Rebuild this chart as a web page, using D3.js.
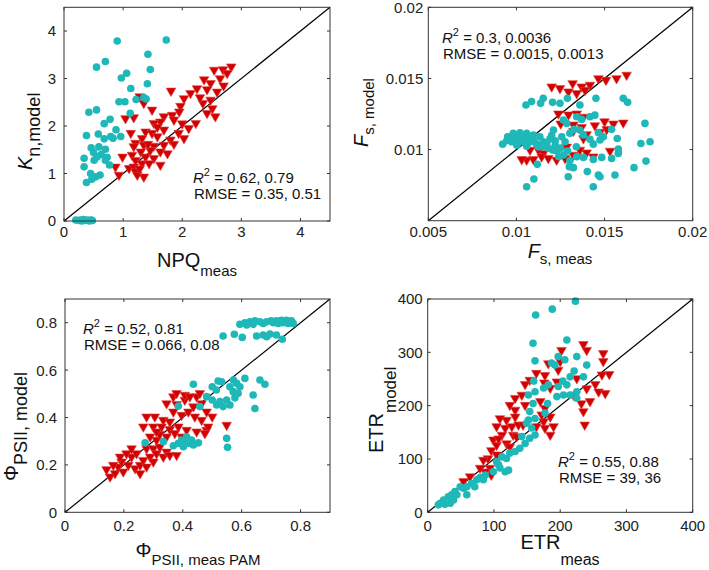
<!DOCTYPE html>
<html>
<head>
<meta charset="utf-8">
<script src="https://cdn.jsdelivr.net/npm/d3@7.9.0/dist/d3.min.js"></script>
<style>
  body { margin: 0; background: #fff; }
  svg { display: block; font-family: "Liberation Sans", Arial, Helvetica, sans-serif; }
</style>
</head>
<body>
<svg id="fig" width="709" height="570"></svg>
<script>
const npqCircles = [
  [0.90,3.79],[1.73,3.81],[1.42,3.51],[0.70,3.36],[0.55,3.24],[1.46,3.19],[1.06,3.11],[0.97,3.01],
  [1.41,2.89],[1.13,2.79],[0.93,2.51],[1.03,2.51],[1.22,2.56],[1.35,2.60],[1.39,2.57],[1.12,2.27],
  [0.42,2.29],[0.55,2.34],[0.78,2.14],[0.68,2.05],[0.38,1.80],[0.58,1.83],[0.88,1.92],[0.79,1.78],
  [0.96,1.78],[0.68,1.73],[0.83,1.74],[0.46,1.54],[0.59,1.56],[0.70,1.51],[0.50,1.44],[0.56,1.35],
  [0.34,1.32],[0.73,1.34],[0.51,1.28],[0.70,1.28],[0.34,1.14],[0.77,1.18],[0.45,1.00],[0.61,0.97],
  [0.54,0.93],[0.38,0.81],[0.47,0.88],[0.63,1.40],
  [0.20,0.02],[0.25,0.01],[0.28,0.02],[0.30,0.00],[0.33,0.03],[0.36,0.01],[0.40,0.02],[0.43,0.00],
  [0.46,0.02],[0.48,0.01]
];
const npqTriangles = [
  [2.83,3.25],[2.69,3.19],[2.54,3.18],[2.76,3.11],[2.64,3.00],[2.37,2.98],[2.48,2.90],[2.25,2.79],
  [2.14,2.69],[1.81,2.74],[2.42,2.77],[2.59,2.72],[2.03,2.58],[1.28,2.62],[1.35,2.48],[1.49,2.34],
  [1.97,2.42],[2.35,2.48],[2.48,2.55],[2.51,2.37],[2.42,2.27],[2.56,2.20],[1.04,2.16],[1.18,2.18],
  [1.69,2.20],[1.83,2.23],[1.63,2.09],[1.86,2.13],[1.52,2.06],[2.23,2.06],[2.11,1.95],[1.13,1.85],
  [1.38,1.88],[1.49,1.85],[1.69,1.92],[1.94,1.85],[2.03,1.74],[1.80,1.71],[1.32,1.74],[1.58,1.78],
  [1.21,1.64],[1.35,1.60],[1.52,1.58],[1.18,1.57],[1.69,1.60],[1.86,1.62],[1.46,1.49],[1.63,1.46],
  [1.30,1.46],[1.75,1.42],[0.99,1.35],[1.15,1.39],[1.38,1.35],[1.52,1.32],[1.21,1.28],[1.32,1.21],
  [1.44,1.21],[1.63,1.18],[0.87,1.14],[1.10,1.11],[1.18,1.14],[0.93,0.97],[1.21,1.04],[1.35,0.93],
  [1.24,0.97],[2.70,2.85],[2.30,2.60],[1.95,2.30],[1.58,1.98],[1.42,1.62],[2.00,2.05],[1.28,1.10]
];
const fsCircles = [
  [0.01058,0.00739],[0.01099,0.00793],[0.01118,0.00896],[0.01294,0.00809],[0.01300,0.00880],[0.01323,0.00873],
  [0.01402,0.00845],[0.01436,0.00739],[0.01465,0.00821],[0.01474,0.00809],[0.01559,0.00821],[0.01667,0.00873],
  [0.01735,0.00919],[0.01706,0.01043],[0.01758,0.01055],[0.01729,0.01184],[0.01572,0.01078],[0.01578,0.01003],
  [0.01578,0.00973],[0.01540,0.00938],[0.01484,0.00945],[0.01436,0.00931],[0.01380,0.00945],[0.01342,0.00950],
  [0.01303,0.00922],[0.01266,0.00962],[0.01228,0.00990],[0.01205,0.00997],[0.01181,0.01009],[0.01152,0.01055],
  [0.01115,0.01038],[0.01077,0.01055],[0.01039,0.01060],[0.01002,0.01067],[0.00973,0.01055],[0.00945,0.01062],
  [0.00922,0.01038],[0.00982,0.01114],[0.01020,0.01118],[0.01058,0.01114],[0.01096,0.01102],[0.01133,0.01090],
  [0.01002,0.01031],[0.01058,0.01024],[0.01125,0.01019],[0.01172,0.01043],[0.01220,0.01062],[0.01257,0.01090],
  [0.01276,0.01055],[0.01303,0.01114],[0.01327,0.01142],[0.01285,0.01184],[0.01360,0.01137],[0.01380,0.01102],
  [0.01417,0.01072],[0.01436,0.01038],[0.01465,0.01118],[0.01474,0.01067],[0.01493,0.01090],[0.01540,0.01142],
  [0.01370,0.01212],[0.01417,0.01231],[0.01445,0.01242],[0.01360,0.01313],[0.01289,0.01360],[0.01247,0.01325],
  [0.01205,0.01332],[0.01152,0.01360],[0.01137,0.01325],[0.01086,0.01337],[0.01054,0.01313],[0.01451,0.01360],
  [0.01606,0.01360],[0.01631,0.01332],[0.01342,0.01231],[0.01266,0.01207],[0.01210,0.01137],
  [0.00950,0.01090],[0.00990,0.01085],[0.01030,0.01095],[0.01070,0.01080],[0.01100,0.01060],[0.01010,0.01045],
  [0.01050,0.01050],[0.01150,0.01020],[0.01220,0.01030],[0.01250,0.01010],[0.01190,0.01075],[0.01240,0.00950],
  [0.01290,0.00990],[0.01340,0.01020],[0.01200,0.01100]
];
const fsTriangles = [
  [0.01625,0.01524],[0.01568,0.01500],[0.01508,0.01488],[0.01465,0.01500],[0.01417,0.01454],[0.01370,0.01442],
  [0.01319,0.01465],[0.01247,0.01430],[0.01200,0.01442],[0.01295,0.01407],[0.01342,0.01395],[0.01389,0.01418],
  [0.01238,0.01252],[0.01295,0.01245],[0.01342,0.01252],[0.01380,0.01229],[0.01251,0.01181],[0.01323,0.01174],
  [0.01370,0.01157],[0.01445,0.01169],[0.01500,0.01197],[0.01550,0.01181],[0.01606,0.01188],[0.01512,0.01142],
  [0.01474,0.01123],[0.01398,0.01106],[0.01323,0.01130],[0.01380,0.01078],[0.01285,0.01019],[0.01360,0.00997],
  [0.01398,0.00978],[0.01531,0.00990],[0.01436,0.00950],[0.01228,0.00927],[0.01152,0.00973],[0.01125,0.00997],
  [0.01096,0.00931],[0.01058,0.00927],[0.01030,0.00931],[0.01077,0.00997],[0.01143,0.00950],[0.01181,0.00938],
  [0.01276,0.00938],[0.01323,0.00962]
];
const phiCircles = [
  [0.594,0.793],[0.611,0.800],[0.628,0.804],[0.645,0.808],[0.662,0.804],[0.685,0.804],[0.700,0.808],[0.718,0.808],
  [0.735,0.810],[0.752,0.810],[0.769,0.808],[0.775,0.797],[0.758,0.797],[0.740,0.800],[0.673,0.797],[0.639,0.793],
  [0.617,0.790],[0.707,0.800],[0.724,0.797],
  [0.537,0.744],[0.575,0.751],[0.602,0.738],[0.651,0.744],[0.673,0.748],[0.696,0.752],[0.718,0.748],[0.685,0.741],
  [0.738,0.730],
  [0.436,0.540],[0.520,0.554],[0.532,0.551],[0.500,0.530],[0.514,0.516],[0.560,0.530],[0.572,0.558],[0.583,0.544],
  [0.594,0.530],[0.611,0.565],[0.571,0.509],[0.588,0.502],[0.662,0.558],[0.679,0.540],[0.639,0.495],[0.645,0.438],
  [0.481,0.488],[0.500,0.474],[0.526,0.467],[0.549,0.474],[0.560,0.453],[0.515,0.453],[0.537,0.446],[0.458,0.446],
  [0.385,0.448],[0.577,0.483],[0.549,0.312],[0.552,0.274],
  [0.368,0.281],[0.385,0.291],[0.396,0.305],[0.407,0.298],[0.419,0.291],[0.430,0.305],[0.402,0.277],[0.436,0.284],
  [0.453,0.293],[0.334,0.298],[0.272,0.293],[0.413,0.319]
];
const phiTriangles = [
  [0.141,0.181],[0.153,0.150],[0.170,0.164],[0.181,0.192],[0.198,0.171],[0.192,0.213],[0.215,0.199],[0.226,0.234],
  [0.238,0.185],[0.255,0.199],[0.243,0.248],[0.266,0.220],[0.289,0.234],[0.277,0.269],[0.300,0.269],[0.311,0.248],
  [0.334,0.234],[0.345,0.255],[0.322,0.276],[0.356,0.241],[0.379,0.241],[0.311,0.305],[0.289,0.319],[0.322,0.330],
  [0.345,0.319],[0.266,0.361],[0.300,0.361],[0.311,0.340],[0.356,0.350],[0.373,0.333],[0.396,0.319],[0.277,0.403],
  [0.305,0.403],[0.334,0.389],[0.356,0.382],[0.328,0.361],[0.385,0.361],[0.413,0.347],[0.447,0.340],[0.481,0.347],
  [0.368,0.424],[0.396,0.410],[0.419,0.424],[0.441,0.403],[0.464,0.389],[0.500,0.403],[0.486,0.361],[0.549,0.368],
  [0.475,0.333],[0.345,0.459],[0.379,0.456],[0.407,0.474],[0.436,0.446],[0.368,0.488],[0.407,0.495],[0.447,0.488],
  [0.464,0.459],[0.481,0.424],[0.379,0.502],[0.424,0.488],[0.458,0.502],[0.187,0.234],[0.209,0.248],[0.226,0.269],
  [0.164,0.199],[0.255,0.164],[0.277,0.192],[0.300,0.213]
];
const etrCircles = [
  [223,396],[188,381],[163,370],[210,323],[159,317],[162,284],[240,276],[197,292],[207,286],[187,280],[192,276],
  [225,292],[221,265],[235,254],[215,254],[204,246],[210,239],[197,236],[182,239],[175,233],[160,246],[162,226],
  [152,220],[215,220],[205,220],[195,217],[225,214],[225,226],[181,204],[177,186],[159,204],[154,189],[152,173],
  [162,176],[157,158],[162,145],[154,139],[147,129],[142,142],[149,167],[139,120],[132,114],[124,111],[119,101],
  [112,104],[104,95],[109,83],[117,76],[122,79],[107,89],[99,76],[87,70],[79,65],[74,61],[66,54],[59,48],[54,45],
  [49,48],[41,39],[36,33],[31,29],[24,23],[19,17],[16,14],[26,15],[39,23],[59,33],[44,33],[34,17],[71,48],[84,61]
];
const etrTriangles = [
  [235,315],[240,304],[265,298],[265,283],[274,259],[263,258],[253,240],[258,226],[268,223],[240,232],[232,204],
  [245,208],[235,189],[237,164],[220,220],[225,251],[202,304],[200,283],[182,279],[197,267],[195,245],[177,257],
  [185,233],[176,243],[164,261],[154,248],[147,240],[170,208],[177,195],[185,179],[175,170],[164,161],[177,158],
  [190,161],[185,145],[172,183],[147,201],[132,192],[124,201],[132,179],[119,173],[109,176],[104,161],[117,158],
  [127,161],[137,164],[144,164],[112,145],[99,136],[96,116],[104,126],[119,129],[129,145],[124,123],[91,101],
  [104,108],[84,98],[94,83],[96,70],[87,76],[79,83],[64,67],[54,58],[134,142],[107,138],[142,220],[132,214]
];

const npqTicks = [0, 1, 2, 3, 4];
const fsXTicks = [0.005, 0.01, 0.015, 0.02];
const fsYTicks = [0.01, 0.015, 0.02];
const phiTicks = [0, 0.2, 0.4, 0.6, 0.8];
const etrTicks = [0, 100, 200, 300, 400];

const cyan = "#1fb8b8";
const red = "#d20000";

const svg = d3.select("#fig");

const panels = [
  {
    circles: npqCircles, tris: npqTriangles, domain: [0, 4.5],
    xTicks: npqTicks, yTicks: npqTicks, fmt: d3.format("d"),
    left: 64, right: 330, top: 7.3, bottom: 221, ylabGap: 8, xlabDy: 16,
    stats: ["0.62, 0.79", "0.35, 0.51"], statX: 193, statY: 183,
    xlab: { main: "NPQ", sub: "meas", italic: false, x: 197, y: 267, subDy: 9, subSize: 15 },
    ylab: { main: "K", sub: "n,model", italic: true, x: 32, y: 170, subDy: 8, subSize: 18 }
  },
  {
    circles: fsCircles, tris: fsTriangles, domain: [0.005, 0.02],
    xTicks: fsXTicks, yTicks: fsYTicks, fmt: d => String(+d.toFixed(3)),
    left: 428.3, right: 692.7, top: 7.3, bottom: 220.7, ylabGap: 5, xlabDy: 16,
    stats: ["0.3, 0.0036", "0.0015, 0.0013"], statX: 442, statY: 43,
    xlab: { main: "F", sub: "s, meas", italic: true, x: 560, y: 258, subDy: 6, subSize: 15 },
    ylab: { main: "F", sub: "s, model", italic: true, x: 368, y: 147, subDy: 6, subSize: 15 }
  },
  {
    circles: phiCircles, tris: phiTriangles, domain: [0, 0.9],
    xTicks: phiTicks, yTicks: phiTicks, fmt: d => String(+d.toFixed(1)),
    left: 65, right: 330, top: 299, bottom: 512.3, ylabGap: 8, xlabDy: 19,
    stats: ["0.52, 0.81", "0.066, 0.08"], statX: 83, statY: 334,
    xlab: { main: "\u03A6", sub: "PSII, meas PAM", italic: false, x: 198, y: 557, subDy: 8, subSize: 15 },
    ylab: { main: "\u03A6", sub: "PSII, model", italic: false, x: 18, y: 481, subDy: 9, subSize: 18 }
  },
  {
    circles: etrCircles, tris: etrTriangles, domain: [0, 400],
    xTicks: etrTicks, yTicks: etrTicks, fmt: d3.format("d"),
    left: 427.7, right: 692.7, top: 299, bottom: 512.3, ylabGap: 5, xlabDy: 19,
    stats: ["0.55, 0.88", "39, 36"], statX: 558, statY: 467,
    xlab: { main: "ETR", sub: "meas", italic: false, x: 560, y: 549, subDy: 16, subSize: 16 },
    ylab: { main: "ETR", sub: "model", italic: false, x: 383, y: 453, subDy: 13, subSize: 17 }
  }
];

const tri = d3.symbol().type(d3.symbolTriangle).size(40);

panels.forEach(p => {
  const x = d3.scaleLinear().domain(p.domain).range([p.left, p.right]);
  const y = d3.scaleLinear().domain(p.domain).range([p.bottom, p.top]);
  const g = svg.append("g");

  // ticks pointing inward on all four sides
  const tl = 3;
  p.xTicks.forEach(t => {
    g.append("line").attr("x1", x(t)).attr("x2", x(t)).attr("y1", p.bottom).attr("y2", p.bottom - tl).attr("stroke", "#333");
    g.append("line").attr("x1", x(t)).attr("x2", x(t)).attr("y1", p.top).attr("y2", p.top + tl).attr("stroke", "#333");
    g.append("text").attr("x", x(t)).attr("y", p.bottom + p.xlabDy)
      .attr("text-anchor", "middle").attr("font-size", 15).attr("fill", "#222").text(p.fmt(t));
  });
  p.yTicks.forEach(t => {
    g.append("line").attr("x1", p.left).attr("x2", p.left + tl).attr("y1", y(t)).attr("y2", y(t)).attr("stroke", "#333");
    g.append("line").attr("x1", p.right).attr("x2", p.right - tl).attr("y1", y(t)).attr("y2", y(t)).attr("stroke", "#333");
    g.append("text").attr("x", p.left - p.ylabGap).attr("y", y(t)).attr("dy", "0.36em")
      .attr("text-anchor", "end").attr("font-size", 15).attr("fill", "#222").text(p.fmt(t));
  });

  // 1:1 line
  g.append("line")
    .attr("x1", x(p.domain[0])).attr("y1", y(p.domain[0]))
    .attr("x2", x(p.domain[1])).attr("y2", y(p.domain[1]))
    .attr("stroke", "#000").attr("stroke-width", 1.2);

  g.selectAll("path.tri").data(p.tris).join("path")
    .attr("class", "tri")
    .attr("d", tri)
    .attr("transform", d => `translate(${x(d[0])},${y(d[1])}) rotate(180)`)
    .attr("fill", red).attr("stroke", "#e04040").attr("stroke-width", 0.6);

  g.selectAll("circle").data(p.circles).join("circle")
    .attr("cx", d => x(d[0])).attr("cy", d => y(d[1]))
    .attr("r", 3.8).attr("fill", cyan);

  // box
  g.append("rect")
    .attr("x", p.left).attr("y", p.top)
    .attr("width", p.right - p.left).attr("height", p.bottom - p.top)
    .attr("fill", "none").attr("stroke", "#333").attr("stroke-width", 1);

  // statistics
  const s1 = g.append("text").attr("x", p.statX).attr("y", p.statY).attr("font-size", 15).attr("fill", "#111");
  s1.append("tspan").attr("font-style", "italic").text("R");
  s1.append("tspan").attr("dy", -7).attr("font-size", 11).text("2");
  s1.append("tspan").attr("dy", 7).text(" = " + p.stats[0]);
  g.append("text").attr("x", p.statX + 1).attr("y", p.statY + 16).attr("font-size", 15).attr("fill", "#111")
    .text("RMSE = " + p.stats[1]);

  // axis labels
  const xl = g.append("text").attr("x", p.xlab.x).attr("y", p.xlab.y)
    .attr("text-anchor", "middle").attr("fill", "#111");
  xl.append("tspan").attr("font-size", 20).attr("font-style", p.xlab.italic ? "italic" : "normal").text(p.xlab.main);
  xl.append("tspan").attr("font-size", p.xlab.subSize).attr("dy", p.xlab.subDy).text(p.xlab.sub);

  const yl = g.append("text")
    .attr("transform", `translate(${p.ylab.x},${p.ylab.y}) rotate(-90)`)
    .attr("text-anchor", "start").attr("fill", "#111");
  yl.append("tspan").attr("font-size", 20).attr("font-style", p.ylab.italic ? "italic" : "normal").text(p.ylab.main);
  yl.append("tspan").attr("font-size", p.ylab.subSize).attr("dy", p.ylab.subDy).text(p.ylab.sub);
});
</script>
</body>
</html>
